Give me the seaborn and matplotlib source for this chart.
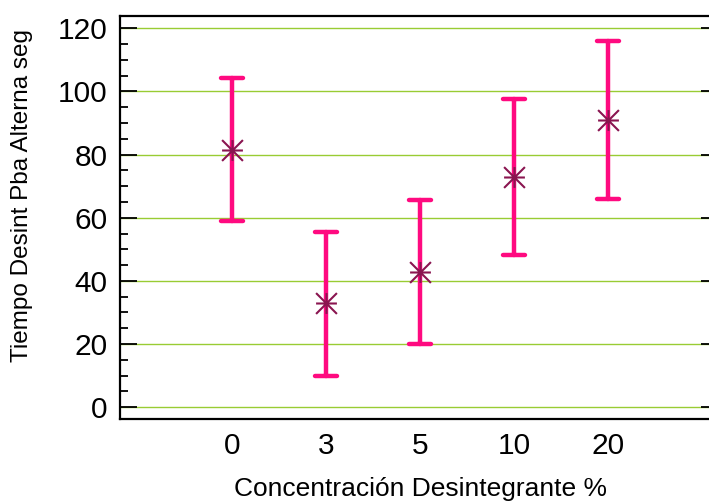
import matplotlib
matplotlib.use("Agg")
import matplotlib.pyplot as plt
from matplotlib.path import Path
from matplotlib.ticker import MultipleLocator
import pandas as pd
import seaborn as sns

# Values (means with interval limits)
concentracion = ["0", "3", "5", "10", "20"]
media = [81.5, 32.9, 42.9, 72.8, 91.0]
limite_inf = [59.0, 9.9, 19.9, 48.3, 66.0]
limite_sup = [104.2, 55.6, 65.5, 97.7, 116.0]

# long table: each level carries its lower limit, mean and upper limit
table = {"conc": [], "tiempo": []}
for c, lo, m, hi in zip(concentracion, limite_inf, media, limite_sup):
    for v in (lo, m, hi):
        table["conc"].append(c)
        table["tiempo"].append(v)
df = pd.DataFrame(table)

sns.set_style("white")
plt.rcParams["font.family"] = ["Liberation Sans", "DejaVu Sans"]
plt.rcParams["text.color"] = "black"
plt.rcParams["axes.labelcolor"] = "black"
plt.rcParams["xtick.color"] = "black"
plt.rcParams["ytick.color"] = "black"

fig = plt.figure(figsize=(7.09, 5.04), dpi=100)
# right spine sits just past the picture edge, only tick tips show
ax = fig.add_axes([120 / 709, 1 - 418.5 / 504, 598 / 709, 402.5 / 504])

pink = "#FF0A80"
maroon = "#8A1550"

# asterisk marker: horizontal, vertical and two diagonals in a square
star = Path(
    [(-1, 0), (1, 0), (0, -1), (0, 1), (-1, -1), (1, 1), (-1, 1), (1, -1)],
    [Path.MOVETO, Path.LINETO] * 4,
)

sns.pointplot(data=df, x="conc", y="tiempo", order=concentracion,
              estimator="median", errorbar=lambda v: (v.min(), v.max()),
              color=pink, marker="", linestyle="none", capsize=0.23,
              err_kws={"linewidth": 3.2, "solid_capstyle": "round"}, ax=ax)
sns.pointplot(data=df, x="conc", y="tiempo", order=concentracion,
              estimator="median", errorbar=None, color=maroon,
              marker=star, linestyle="none", markersize=15,
              markeredgewidth=1.5, markerfacecolor="none", ax=ax)

ax.set_xlim(-1.19, 5.17)
ax.set_ylim(-3.6, 123.9)
ax.yaxis.set_major_locator(MultipleLocator(20))
ax.yaxis.set_minor_locator(MultipleLocator(5))
ax.grid(axis="y", color="#99CC33", linewidth=1.0)
ax.set_axisbelow(True)

ax.tick_params(axis="y", which="major", direction="in", length=12, width=1.3,
               labelsize=21.5, pad=9, left=True, right=True)
ax.tick_params(axis="y", which="minor", direction="in", length=6, width=1.3,
               left=True, right=False)
ax.tick_params(axis="x", length=0, labelsize=21.5, pad=10)
for s in ax.spines.values():
    s.set_color("black")
    s.set_linewidth(1.6)

ax.set_xlabel("Concentración Desintegrante %", fontsize=19)
ax.set_ylabel("Tiempo Desint Pba Alterna seg", fontsize=17.5)
ax.xaxis.set_label_coords(0.503, -0.146)
ax.yaxis.set_label_coords(-0.145, 0.555)

fig.savefig("out.png", dpi=100)
